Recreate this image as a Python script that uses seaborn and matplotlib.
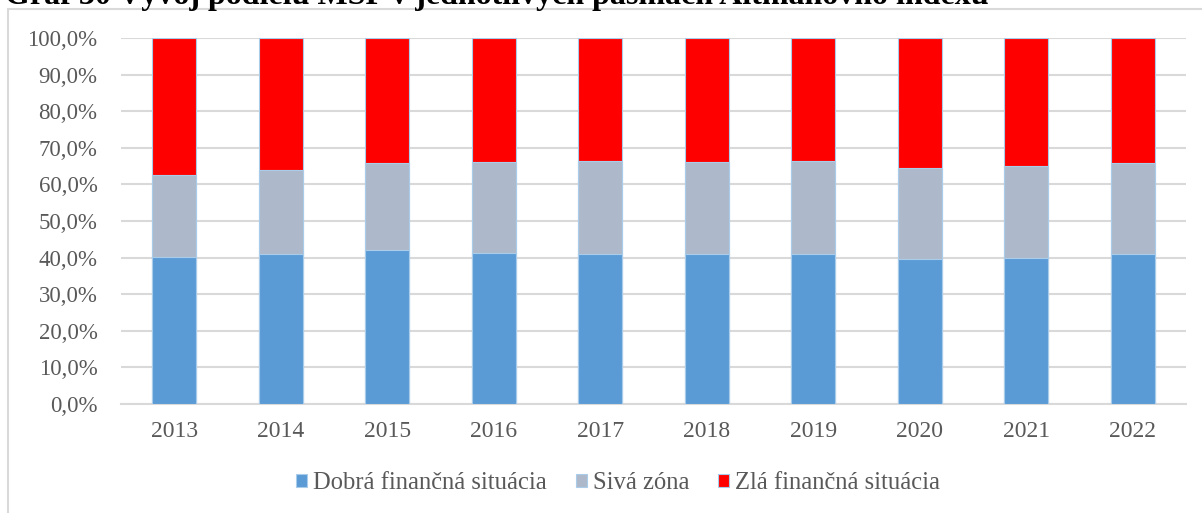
import matplotlib
matplotlib.use("Agg")
import matplotlib.pyplot as plt
import matplotlib.patches as mpatches
from matplotlib.ticker import FuncFormatter, MultipleLocator
import numpy as np
import pandas as pd
import seaborn as sns

# Shares of SMEs in Altman Z-score zones (%)
years = ["2013", "2014", "2015", "2016", "2017", "2018", "2019", "2020", "2021", "2022"]
good = [40.2, 40.9, 42.1, 41.3, 41.0, 41.0, 41.1, 39.6, 39.9, 41.0]
grey = [22.3, 22.9, 23.7, 24.7, 25.3, 25.0, 25.3, 24.8, 25.1, 24.8]
bad = [37.5, 36.2, 34.2, 34.0, 33.7, 34.0, 33.6, 35.6, 35.0, 34.2]

labels = ["Dobrá finančná situácia", "Sivá zóna", "Zlá finančná situácia"]
colors = ["#5B9BD5", "#ADB9CA", "#FF0000"]
edge = "#A9CCEA"

sns.set_theme(style="white")
plt.rcParams["font.family"] = ["Liberation Serif", "DejaVu Serif"]

fig = plt.figure(figsize=(12.02, 5.13), dpi=100)
ax = fig.add_axes([121 / 1202, 1 - 404 / 513, (1186 - 121) / 1202, (404 - 38) / 513])

df = pd.DataFrame({"year": years, "good": good, "grey": grey, "bad": bad})
df["c1"] = df["good"]
df["c2"] = df["good"] + df["grey"]
df["c3"] = df["c2"] + df["bad"]

# stacked look: draw cumulative totals from the top segment down
for col, c in zip(["c3", "c2", "c1"], colors[::-1]):
    sns.barplot(data=df, x="year", y=col, color=c, width=0.41, ax=ax,
                edgecolor=edge, linewidth=0.8, saturation=1, zorder=3)

ax.set_xlim(-0.5, len(years) - 0.5)
ax.set_ylim(0, 100)
ax.yaxis.set_major_locator(MultipleLocator(10))
ax.yaxis.set_major_formatter(FuncFormatter(lambda v, p: f"{v:.1f}%".replace(".", ",")))
ax.set_xlabel("")
ax.set_ylabel("")
ax.grid(axis="y", color="#D9D9D9", linewidth=1.5, zorder=0)
ax.set_axisbelow(True)
for s in ["top", "right", "left"]:
    ax.spines[s].set_visible(False)
ax.spines["bottom"].set_color("#D9D9D9")
ax.spines["bottom"].set_linewidth(1.5)
ax.tick_params(axis="y", length=0, pad=17, labelsize=16.5, labelcolor="#595959")
ax.tick_params(axis="x", length=0, pad=12, labelsize=17, labelcolor="#595959")

handles = [mpatches.Patch(facecolor=c, edgecolor=edge, linewidth=0.8) for c in colors]
fig.legend(handles, labels, loc="center", bbox_to_anchor=(618 / 1202, 1 - 483 / 513),
           ncol=3, frameon=False, fontsize=17.7, handlelength=0.45, handleheight=0.45,
           handletextpad=0.25, columnspacing=1.15, labelcolor="#595959")

# chart area frame
fig.patches.append(mpatches.Rectangle((8 / 1202, -0.05), 1.1, 1 - 9 / 513 + 0.05,
                                      transform=fig.transFigure, fill=False,
                                      edgecolor="#D9D9D9", linewidth=1.5))

fig.text(5 / 1202, 1 - 4 / 513, "Graf 30 Vývoj podielu MSP v jednotlivých pásmach Altmanovho indexu",
         fontsize=23, fontweight="bold", color="black", ha="left", va="baseline")

fig.savefig("out.png", dpi=100)
